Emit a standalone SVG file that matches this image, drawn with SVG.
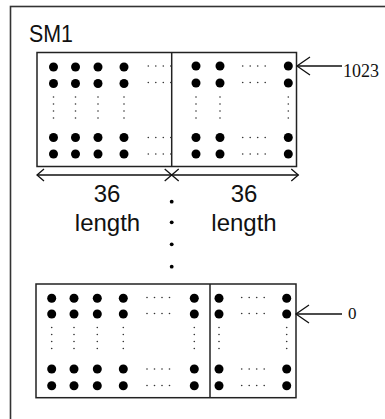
<svg xmlns="http://www.w3.org/2000/svg" width="385" height="419" viewBox="0 0 385 419">
  <defs>
    <style>
      .frame { fill: none; stroke: #333; stroke-width: 1.6; }
      .box { fill: #fff; stroke: #222; stroke-width: 1.5; }
      .div { stroke: #222; stroke-width: 1.5; }
      .cell { fill: #000; }
      .tiny { fill: #333; }
      .line { fill: none; stroke: #111; stroke-width: 1.3; }
      .lbl { font-family: "Liberation Sans", Arial, sans-serif; font-size: 24px; fill: #111; }
    </style>
    <!-- four-dot leaders -->
    <g id="hdots">
      <circle class="tiny" cx="0" cy="0" r="0.8"/>
      <circle class="tiny" cx="7.5" cy="0" r="0.8"/>
      <circle class="tiny" cx="15" cy="0" r="0.8"/>
      <circle class="tiny" cx="22.5" cy="0" r="0.8"/>
    </g>
    <g id="vdots">
      <circle class="tiny" cx="0" cy="0" r="0.8"/>
      <circle class="tiny" cx="0" cy="7" r="0.8"/>
      <circle class="tiny" cx="0" cy="14" r="0.8"/>
      <circle class="tiny" cx="0" cy="21" r="0.8"/>
    </g>
  </defs>

  <rect width="385" height="419" fill="#fff"/>

  <!-- memory outline -->
  <g id="sm1">
    <rect class="frame" x="10.5" y="6.5" width="400" height="440"/>
    <text class="lbl" x="29" y="41.5" textLength="44" lengthAdjust="spacingAndGlyphs">SM1</text>
  </g>

  <!-- row 1023 -->
  <g id="row-top">
    <rect class="box" x="37" y="52.5" width="259.5" height="114"/>
    <line class="div" x1="171.7" y1="52.5" x2="171.7" y2="166.5"/>
    <g>
      <circle class="cell" cx="53.5" cy="67" r="4.5"/><circle class="cell" cx="75.5" cy="67" r="4.5"/><circle class="cell" cx="98" cy="67" r="4.5"/><circle class="cell" cx="124" cy="67" r="4.5"/>
      <circle class="cell" cx="53.5" cy="83.5" r="4.5"/><circle class="cell" cx="75.5" cy="83.5" r="4.5"/><circle class="cell" cx="98" cy="83.5" r="4.5"/><circle class="cell" cx="124" cy="83.5" r="4.5"/>
      <circle class="cell" cx="53.5" cy="137.5" r="4.5"/><circle class="cell" cx="75.5" cy="137.5" r="4.5"/><circle class="cell" cx="98" cy="137.5" r="4.5"/><circle class="cell" cx="124" cy="137.5" r="4.5"/>
      <circle class="cell" cx="53.5" cy="154" r="4.5"/><circle class="cell" cx="75.5" cy="154" r="4.5"/><circle class="cell" cx="98" cy="154" r="4.5"/><circle class="cell" cx="124" cy="154" r="4.5"/>
      <circle class="cell" cx="196" cy="66" r="4.5"/><circle class="cell" cx="220" cy="66" r="4.5"/><circle class="cell" cx="288.3" cy="66" r="4.5"/>
      <circle class="cell" cx="196" cy="83" r="4.5"/><circle class="cell" cx="220" cy="83" r="4.5"/><circle class="cell" cx="288.3" cy="83" r="4.5"/>
      <circle class="cell" cx="196" cy="137.5" r="4.5"/><circle class="cell" cx="220" cy="137.5" r="4.5"/><circle class="cell" cx="288.3" cy="137.5" r="4.5"/>
      <circle class="cell" cx="196" cy="154" r="4.5"/><circle class="cell" cx="220" cy="154" r="4.5"/><circle class="cell" cx="288.3" cy="154" r="4.5"/>
    </g>
    <use href="#hdots" x="148.3" y="66"/><use href="#hdots" x="148.3" y="82.5"/><use href="#hdots" x="148.3" y="137.5"/><use href="#hdots" x="148.3" y="154"/>
    <use href="#hdots" x="242.7" y="66"/><use href="#hdots" x="242.7" y="82.5"/><use href="#hdots" x="242.7" y="137.5"/><use href="#hdots" x="242.7" y="154"/>
    <use href="#vdots" x="53.5" y="97"/><use href="#vdots" x="75.5" y="97"/><use href="#vdots" x="98" y="97"/><use href="#vdots" x="124" y="97"/>
    <use href="#vdots" x="196" y="97"/><use href="#vdots" x="220" y="97"/><use href="#vdots" x="288.3" y="97"/>
  </g>

  <!-- row 0 -->
  <g id="row-bottom">
    <rect class="box" x="36" y="284" width="260" height="113.7"/>
    <line class="div" x1="210" y1="284" x2="210" y2="397.7"/>
    <g>
      <circle class="cell" cx="51.7" cy="298.3" r="4.5"/><circle class="cell" cx="74" cy="298.3" r="4.5"/><circle class="cell" cx="97.3" cy="298.3" r="4.5"/><circle class="cell" cx="123.3" cy="298.3" r="4.5"/><circle class="cell" cx="194.3" cy="298.3" r="4.5"/><circle class="cell" cx="219" cy="298.3" r="4.5"/><circle class="cell" cx="286.7" cy="298.3" r="4.5"/>
      <circle class="cell" cx="51.7" cy="314" r="4.5"/><circle class="cell" cx="74" cy="314" r="4.5"/><circle class="cell" cx="97.3" cy="314" r="4.5"/><circle class="cell" cx="123.3" cy="314" r="4.5"/><circle class="cell" cx="194.3" cy="314" r="4.5"/><circle class="cell" cx="219" cy="314" r="4.5"/><circle class="cell" cx="286.7" cy="314" r="4.5"/>
      <circle class="cell" cx="51.7" cy="369" r="4.5"/><circle class="cell" cx="74" cy="369" r="4.5"/><circle class="cell" cx="97.3" cy="369" r="4.5"/><circle class="cell" cx="123.3" cy="369" r="4.5"/><circle class="cell" cx="194.3" cy="369" r="4.5"/><circle class="cell" cx="219" cy="369" r="4.5"/><circle class="cell" cx="286.7" cy="369" r="4.5"/>
      <circle class="cell" cx="51.7" cy="385.7" r="4.5"/><circle class="cell" cx="74" cy="385.7" r="4.5"/><circle class="cell" cx="97.3" cy="385.7" r="4.5"/><circle class="cell" cx="123.3" cy="385.7" r="4.5"/><circle class="cell" cx="194.3" cy="385.7" r="4.5"/><circle class="cell" cx="219" cy="385.7" r="4.5"/><circle class="cell" cx="286.7" cy="385.7" r="4.5"/>
    </g>
    <use href="#hdots" x="147" y="297.5"/><use href="#hdots" x="147" y="313.5"/><use href="#hdots" x="147" y="369"/><use href="#hdots" x="147" y="385.5"/>
    <use href="#hdots" x="241.7" y="297.5"/><use href="#hdots" x="241.7" y="313.5"/><use href="#hdots" x="241.7" y="369"/><use href="#hdots" x="241.7" y="385.5"/>
    <use href="#vdots" x="51.7" y="327.5"/><use href="#vdots" x="74" y="327.5"/><use href="#vdots" x="97.3" y="327.5"/><use href="#vdots" x="123.3" y="327.5"/>
    <use href="#vdots" x="194.3" y="327.5"/><use href="#vdots" x="219" y="327.5"/><use href="#vdots" x="286.7" y="327.5"/>
  </g>

  <!-- width labels -->
  <g id="width-labels">
    <text class="lbl" x="107" y="202" text-anchor="middle">36</text>
    <text class="lbl" x="107.5" y="231" text-anchor="middle">length</text>
    <text class="lbl" x="244" y="202" text-anchor="middle">36</text>
    <text class="lbl" x="244" y="231" text-anchor="middle">length</text>
  </g>

  <!-- rows in between -->
  <g id="ellipsis">
    <circle class="cell" cx="171.7" cy="201.7" r="1.9"/>
    <circle class="cell" cx="171.7" cy="222.3" r="1.9"/>
    <circle class="cell" cx="171.7" cy="244.3" r="1.9"/>
    <circle class="cell" cx="171.7" cy="266.7" r="1.9"/>
  </g>

  <!-- index labels -->
  <g id="idx-1023">
    <text x="343" y="76.5" font-family="Liberation Serif, Times New Roman, serif" font-size="18" fill="#111" textLength="36" lengthAdjust="spacingAndGlyphs">1023</text>
  </g>
  <g id="idx-0">
    <text x="348" y="318.8" font-family="Liberation Serif, Times New Roman, serif" font-size="17" fill="#111">0</text>
  </g>

  <g id="connectors">
    <!-- dimension line with open heads -->
    <line class="line" x1="37" y1="175" x2="298.3" y2="175"/>
    <polyline class="line" points="44,169 37,175 44,181"/>
    <polyline class="line" points="164.7,169 171.7,175 164.7,181"/>
    <polyline class="line" points="178.7,169 171.7,175 178.7,181"/>
    <polyline class="line" points="291.3,169 298.3,175 291.3,181"/>
    <!-- index pointers -->
    <line class="line" x1="297" y1="66" x2="342" y2="66"/>
    <polyline class="line" points="310,57 297,66 310,75"/>
    <line class="line" x1="296" y1="314" x2="342" y2="314"/>
    <polyline class="line" points="309,305 296,314 309,323"/>
  </g>
</svg>
